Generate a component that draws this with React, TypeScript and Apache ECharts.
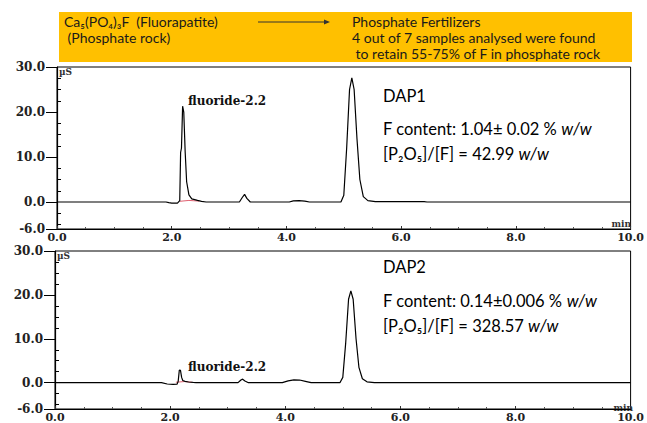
import React, { useEffect, useRef } from 'react';
import * as echarts from 'echarts';

// retention time (min) and conductivity (µS) — DAP1 trace
const dap1Time = [0, 1.9, 1.95, 2.0, 2.1, 2.14, 2.155, 2.17, 2.19, 2.21, 2.235, 2.26, 2.3, 2.35, 2.45, 2.52, 2.6, 3.18, 3.23, 3.27, 3.31, 3.37, 4.05, 4.12, 4.22, 4.32, 4.4, 4.95, 5.0, 5.05, 5.1, 5.14, 5.18, 5.23, 5.28, 5.34, 5.42, 5.55, 6.4, 6.45, 10];
const dap1Signal = [0, 0, -0.15, -0.25, -0.25, 0.3, 11, 12, 21.3, 20, 11, 4.5, 1.6, 0.7, 0.35, 0.15, 0, 0, 1.0, 1.7, 0.8, 0, 0, 0.25, 0.3, 0.2, 0, 0, 1.5, 12, 25, 27.6, 25, 14, 5, 1.2, 0.3, 0.1, 0.1, 0, 0];
const dap1BaseTime = [2.14, 2.3, 2.48];
const dap1BaseSignal = [0.15, 0.35, 0.2];

// DAP2 trace
const dap2Time = [0, 1.85, 1.95, 2.05, 2.12, 2.14, 2.16, 2.18, 2.2, 2.22, 2.26, 2.32, 2.4, 2.45, 3.18, 3.23, 3.26, 3.3, 3.36, 3.95, 4.05, 4.15, 4.25, 4.35, 4.45, 4.95, 5.0, 5.05, 5.1, 5.14, 5.18, 5.23, 5.28, 5.34, 5.42, 5.55, 10];
const dap2Signal = [0, 0, -0.3, -0.4, -0.35, 0.3, 2.9, 2.8, 1.2, 0.5, 0.3, 0.15, 0.05, 0, 0, 0.6, 0.8, 0.4, 0, 0, 0.4, 0.65, 0.6, 0.3, 0, 0, 1.2, 9, 19, 20.9, 19, 10, 3.5, 0.9, 0.2, 0, 0];
const dap2BaseTime = [2.1, 2.25, 2.38];
const dap2BaseSignal = [0.1, 0.25, 0.1];

const yMajor = [-6, 0, 10, 20, 30];
const yMinor = [-5, -2.5, 2.5, 5, 7.5, 12.5, 15, 17.5, 22.5, 25, 27.5];

const zip = (a: number[], b: number[]) => a.map((v, i) => [v, b[i]]);

const serifBold = { fontFamily: 'DejaVu Serif', fontWeight: 'bold' as const };

function xAxisFor(gridIndex: number) {
  return {
    type: 'value' as const,
    gridIndex,
    min: 0,
    max: 10,
    interval: 2,
    axisLine: { show: true, onZero: false, lineStyle: { color: '#000', width: 1.2 } },
    axisTick: { show: true, inside: true, length: 3, lineStyle: { color: '#333' } },
    minorTick: { show: true, splitNumber: 4, length: 2, lineStyle: { color: '#555' } },
    axisLabel: { ...serifBold, fontSize: 11, color: '#222', margin: 3, formatter: (v: number) => v.toFixed(1) },
    splitLine: { show: false },
  };
}

function yAxesFor(gridIndex: number) {
  return [
    {
      type: 'value' as const,
      gridIndex,
      min: -6,
      max: 30,
      axisLine: { show: true, onZero: false, lineStyle: { color: '#000', width: 1.2 } },
      axisTick: { show: true, length: 11, customValues: yMajor, lineStyle: { color: '#000' } },
      axisLabel: { ...serifBold, fontSize: 12, color: '#222', margin: 12, customValues: yMajor, formatter: (v: number) => v.toFixed(1) },
      splitLine: { show: false },
    },
    {
      type: 'value' as const,
      gridIndex,
      min: -6,
      max: 30,
      axisLine: { show: false },
      axisTick: { show: true, length: 4, customValues: yMinor, lineStyle: { color: '#000' } },
      axisLabel: { show: false },
      splitLine: { show: false },
    },
  ];
}

const bannerFont = { fontFamily: 'Lato', fontSize: 14, fill: '#1a1a1a' };

export default function App() {
  const ref = useRef<HTMLDivElement>(null);
  useEffect(() => {
    if (!ref.current) return;
    const chart = echarts.init(ref.current, null, { renderer: 'svg' });
    const richInfo = {
      n: { fontFamily: 'Lato', fontSize: 16.5, color: '#1a1a1a' },
      i: { fontFamily: 'Lato', fontSize: 16.5, fontStyle: 'italic', color: '#1a1a1a' },
    };
    const annot = (x: number, y: number, text: string) => ({
      type: 'text', left: x, top: y, style: { text, rich: richInfo, fontFamily: 'Lato', fontSize: 16.5 },
    });
    chart.setOption({
      animation: false,
      backgroundColor: '#fff',
      grid: [
        { left: 57, top: 67, width: 575, height: 162, show: true, borderColor: '#000', borderWidth: 1, backgroundColor: 'transparent' },
        { left: 55, top: 251, width: 579, height: 162, show: true, borderColor: '#000', borderWidth: 1, backgroundColor: 'transparent' },
      ],
      xAxis: [xAxisFor(0), xAxisFor(1)],
      yAxis: [...yAxesFor(0), ...yAxesFor(1)],
      series: [
        { type: 'line', xAxisIndex: 0, yAxisIndex: 0, data: zip(dap1Time, dap1Signal), showSymbol: false, lineStyle: { color: '#000', width: 1.2 }, z: 3 },
        { type: 'line', xAxisIndex: 0, yAxisIndex: 0, data: zip(dap1BaseTime, dap1BaseSignal), showSymbol: false, lineStyle: { color: '#e06070', width: 1 }, z: 2 },
        { type: 'line', xAxisIndex: 1, yAxisIndex: 2, data: zip(dap2Time, dap2Signal), showSymbol: false, lineStyle: { color: '#000', width: 1.2 }, z: 3 },
        { type: 'line', xAxisIndex: 1, yAxisIndex: 2, data: zip(dap2BaseTime, dap2BaseSignal), showSymbol: false, lineStyle: { color: '#e06070', width: 1 }, z: 2 },
      ],
      graphic: [
        // banner
        { type: 'rect', shape: { x: 59, y: 12, width: 573, height: 50 }, style: { fill: '#FFC000' }, z: 0 },
        { type: 'text', left: 64, top: 14, style: { text: 'Ca₅(PO₄)₃F  (Fluorapatite)', ...bannerFont } },
        { type: 'text', left: 64, top: 30, style: { text: ' (Phosphate rock)', ...bannerFont } },
        { type: 'line', shape: { x1: 258, y1: 22, x2: 326, y2: 22 }, style: { stroke: '#333', lineWidth: 1 } },
        { type: 'polygon', shape: { points: [[330, 22], [324, 19.5], [324, 24.5]] }, style: { fill: '#333' } },
        { type: 'text', left: 352, top: 14, style: { text: 'Phosphate Fertilizers', ...bannerFont } },
        { type: 'text', left: 352, top: 30, style: { text: '4 out of 7 samples analysed were found', ...bannerFont } },
        { type: 'text', left: 352, top: 46, style: { text: ' to retain 55-75% of F in phosphate rock', ...bannerFont } },
        // unit labels
        { type: 'text', left: 59, top: 67, style: { text: 'µS', ...serifBold, fontSize: 9, fill: '#333' } },
        { type: 'text', left: 57, top: 251, style: { text: 'µS', ...serifBold, fontSize: 9, fill: '#333' } },
        { type: 'text', right: 16, top: 219, style: { text: 'min', ...serifBold, fontSize: 9, fill: '#333' } },
        { type: 'text', right: 14, top: 403, style: { text: 'min', ...serifBold, fontSize: 9, fill: '#333' } },
        // peak labels
        { type: 'text', left: 188, top: 95, style: { text: 'fluoride-2.2', ...serifBold, fontSize: 12, fill: '#111' } },
        { type: 'text', left: 188, top: 361, style: { text: 'fluoride-2.2', ...serifBold, fontSize: 12, fill: '#111' } },
        // sample info
        annot(383, 87, '{n|DAP1}'),
        annot(383, 120, '{n|F content: 1.04± 0.02 % }{i|w/w}'),
        annot(383, 145, '{n|[P₂O₅]/[F] = 42.99 }{i|w/w}'),
        annot(383, 258, '{n|DAP2}'),
        annot(383, 292, '{n|F content: 0.14±0.006 % }{i|w/w}'),
        annot(383, 317, '{n|[P₂O₅]/[F] = 328.57 }{i|w/w}'),
      ],
    });
    return () => chart.dispose();
  }, []);
  return <div ref={ref} style={{ position: 'fixed', left: 0, top: 0, width: 647, height: 423, background: '#fff' }} />;
}
